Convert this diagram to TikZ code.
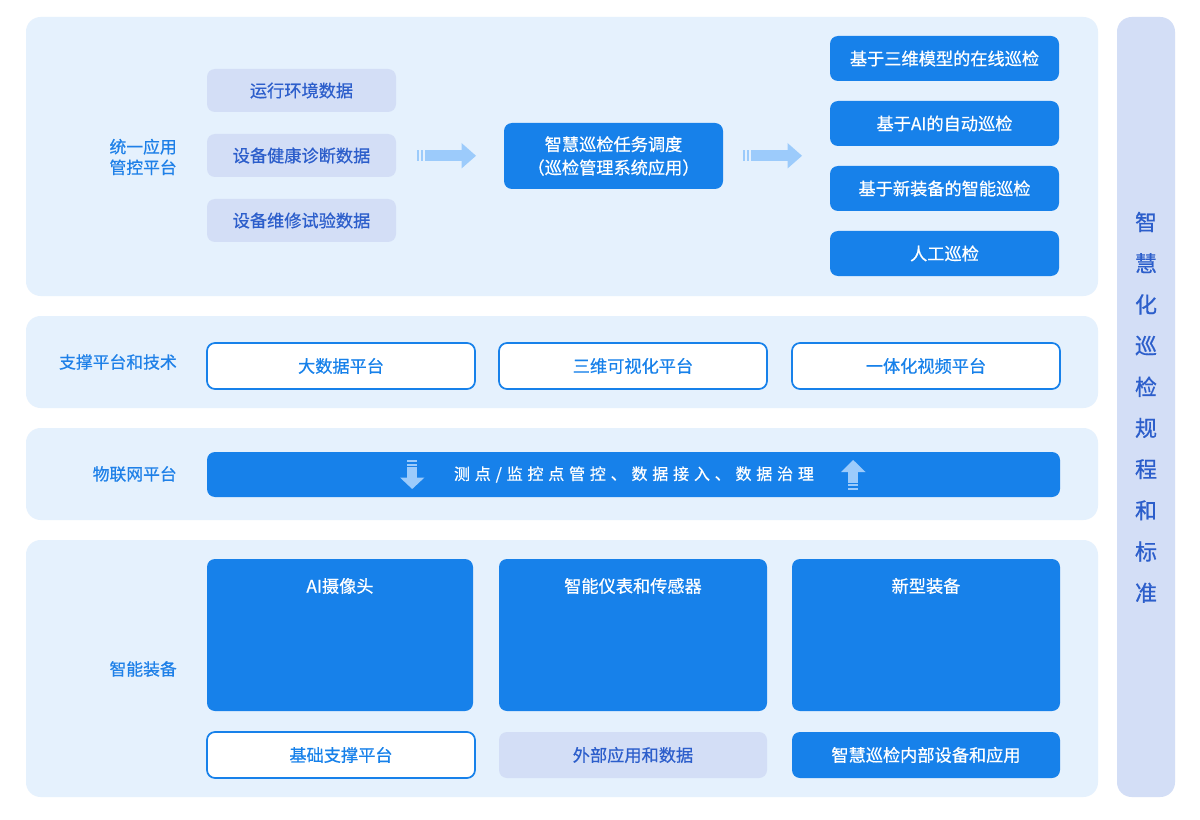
\documentclass[tikz,border=0pt]{standalone}
\usepackage{fontspec}
\setmainfont{Noto Sans CJK SC}[FakeBold=0.6]
\usetikzlibrary{fit}
\definecolor{panelbg}{HTML}{E5F1FD}
\definecolor{graybox}{HTML}{D3DEF6}
\definecolor{bluebox}{HTML}{1781EA}
\definecolor{darktext}{HTML}{2C5ECB}
\definecolor{labeltext}{HTML}{1E80E8}
\definecolor{arrowc}{HTML}{9CCBFB}
\tikzset{
  panel/.style={fill=panelbg, rounded corners=11pt, draw=none},
  graybx/.style={fill=graybox, rounded corners=6pt, draw=none, inner sep=0pt},
  bluebx/.style={fill=bluebox, rounded corners=6pt, draw=none, inner sep=0pt},
  whitebx/.style={fill=white, rounded corners=6pt, draw=bluebox, line width=1.3pt, inner sep=0pt},
  txt/.style={font=\fontsize{12.9}{15}\selectfont, inner sep=0pt},
  lbl/.style={anchor=east, text=labeltext, align=right, font=\fontsize{12.6}{15.5}\selectfont, inner sep=0pt},
  sidechar/.style={text=darktext, font=\fontsize{16.5}{18}\selectfont, inner sep=0pt},
}
\begin{document}
\begin{tikzpicture}[x=0.75pt, y=-0.75pt]
\useasboundingbox (0,0) rectangle (1200,820);
\fill[white] (0,0) rectangle (1200,820);
% panels
\node[panel, fit={(26,17)(1098,296)}, inner sep=0pt] (p1) {};
\node[panel, fit={(26,316)(1098,408)}, inner sep=0pt] (p2) {};
\node[panel, fit={(26,428)(1098,520)}, inner sep=0pt] (p3) {};
\node[panel, fit={(26,540)(1098,797)}, inner sep=0pt] (p4) {};
% side column
\node[fill=graybox, rounded corners=11pt, fit={(1117,17)(1175,797)}, inner sep=0pt] (side) {};
\foreach \c [count=\i from 0] in {智,慧,化,巡,检,规,程,和,标,准}
  \node[sidechar] (s\i) at (1146,{222+41.2*\i}) {\c};
% labels
\node[lbl] (l1) at (177,157) {统一应用\\管控平台};
\node[lbl] (l2) at (177,362) {支撑平台和技术};
\node[lbl] (l3) at (177,474) {物联网平台};
\node[lbl] (l4) at (177,669) {智能装备};
% top panel
\node[graybx, fit={(207,69)(396,112)}] (d1) {};
\node[txt, text=darktext] at (d1.center) {运行环境数据};
\node[graybx, fit={(207,134)(396,177)}] (d2) {};
\node[txt, text=darktext] at (d2.center) {设备健康诊断数据};
\node[graybx, fit={(207,199)(396,242)}] (d3) {};
\node[txt, text=darktext] at (d3.center) {设备维修试验数据};
\node[bluebx, fit={(504,123)(723,189)}] (mid) {};
\node[text=white, align=center, font=\fontsize{12.9}{17.5}\selectfont] (midt) at (mid.center) {智慧巡检任务调度\\（巡检管理系统应用）};
\foreach \y/\t [count=\i] in {36/基于三维模型的在线巡检,101/基于AI的自动巡检,166/基于新装备的智能巡检,231/人工巡检}{
  \node[bluebx, fit={(830,\y)(1059,\y+45)}] (r\i) {};
  \node[txt, text=white] at (r\i.center) {\t};
}
% horizontal arrows
\foreach \x in {417,743}{
  \fill[arrowc] (\x,150.5) rectangle (\x+2,161);
  \fill[arrowc] (\x+3.5,150.5) rectangle (\x+5.5,161);
  \fill[arrowc] (\x+7.5,150.5) rectangle (\x+45,161);
  \fill[arrowc] (\x+44.5,143) -- (\x+59,155.8) -- (\x+44.5,168.5) -- cycle;
}
% support panel
\node[whitebx, fit={(207,343)(475,389)}] (b1) {};
\node[txt, text=bluebox] at (b1.center) {大数据平台};
\node[whitebx, fit={(499,343)(767,389)}] (b2) {};
\node[txt, text=bluebox] at (b2.center) {三维可视化平台};
\node[whitebx, fit={(792,343)(1060,389)}] (b3) {};
\node[txt, text=bluebox] at (b3.center) {一体化视频平台};
% iot bar
\node[bluebx, fit={(207,452)(1060,497)}] (iot) {};
\node[text=white, inner sep=0pt, font=\fontsize{12}{14}\selectfont\addfontfeature{LetterSpace=30}] at (634,474.5) {测点/监控点管控、数据接入、数据治理};
% down arrow
\fill[arrowc] (407,460) rectangle (417,462);
\fill[arrowc] (407,463.5) rectangle (417,465.5);
\fill[arrowc] (407,467) rectangle (417,478);
\fill[arrowc] (400,477.5) -- (424.5,477.5) -- (412.2,489) -- cycle;
% up arrow
\fill[arrowc] (848,484) rectangle (858,486);
\fill[arrowc] (848,487.5) rectangle (858,489.5);
\fill[arrowc] (848,471.5) rectangle (858,482.5);
\fill[arrowc] (841,472) -- (865.5,472) -- (853.2,460) -- cycle;
% equipment panel
\node[bluebx, fit={(207,559)(473,711)}] (e1) {};
\node[txt, text=white] at (340,586) {AI摄像头};
\node[bluebx, fit={(499,559)(767,711)}] (e2) {};
\node[txt, text=white] at (633,586) {智能仪表和传感器};
\node[bluebx, fit={(792,559)(1060,711)}] (e3) {};
\node[txt, text=white] at (926,586) {新型装备};
\node[whitebx, fit={(207,732)(475,778)}] (f1) {};
\node[txt, text=bluebox] at (f1.center) {基础支撑平台};
\node[graybx, fit={(499,732)(767,778)}] (f2) {};
\node[txt, text=darktext] at (f2.center) {外部应用和数据};
\node[bluebx, fit={(792,732)(1060,778)}] (f3) {};
\node[txt, text=white] at (f3.center) {智慧巡检内部设备和应用};
\end{tikzpicture}
\end{document}
